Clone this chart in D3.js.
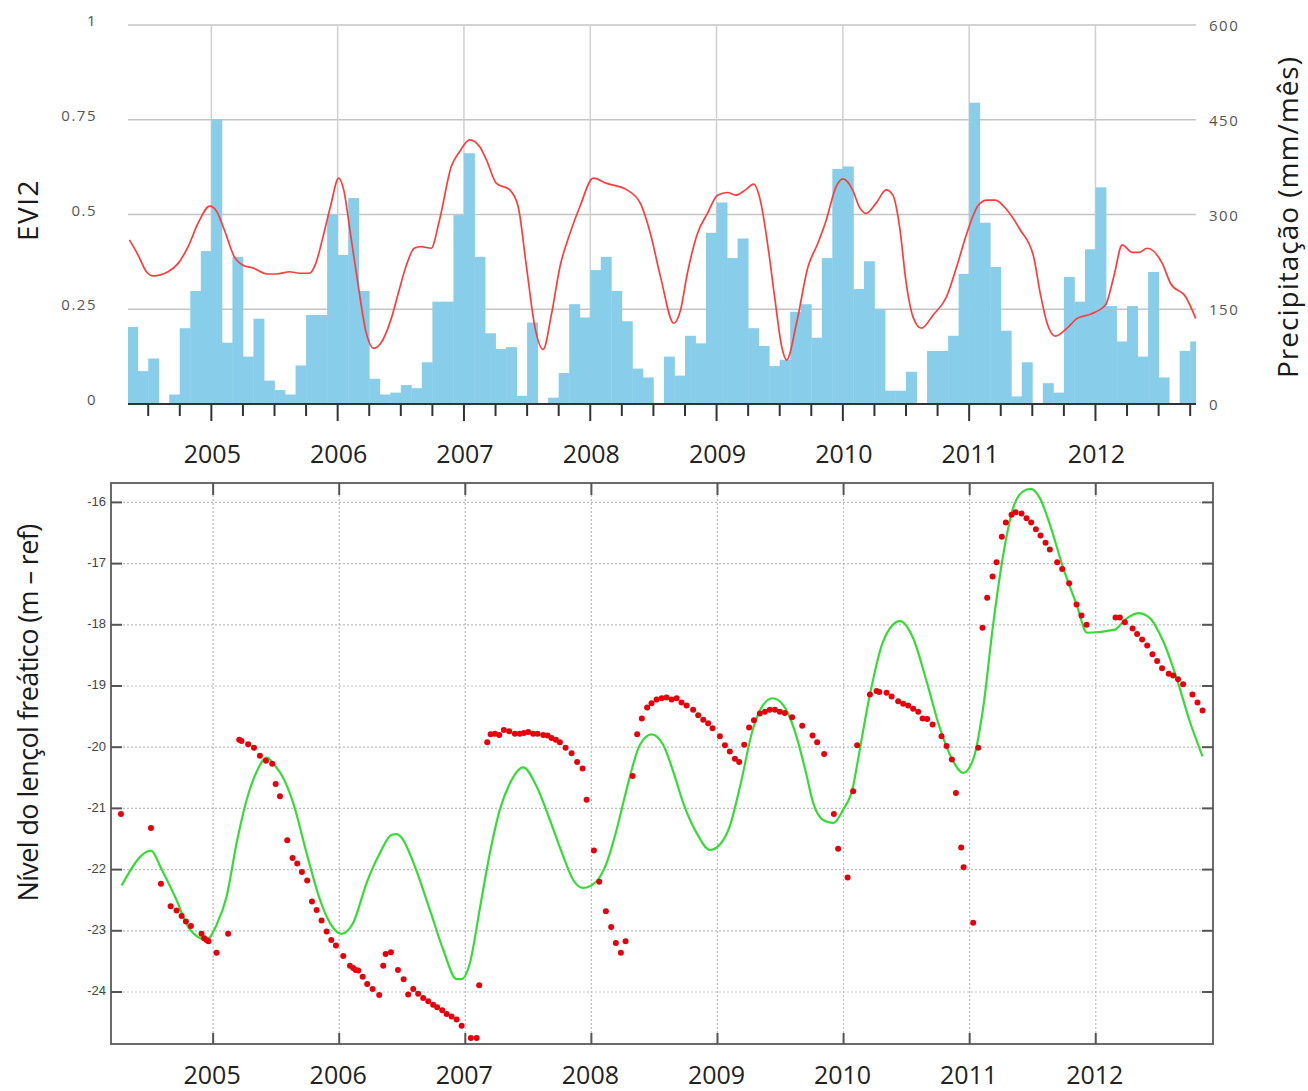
<!DOCTYPE html>
<html>
<head>
<meta charset="utf-8">
<script src="https://cdn.jsdelivr.net/npm/d3@7"></script>
<style>
body { margin: 0; background: #fff; }
text { font-family: "Open Sans", sans-serif; }
</style>
</head>
<body>
<div id="chart"></div>
<script>
// monthly rain (mm/mes), first bar is May 2004
var precipStart = [2004, 5];
var precip = [
    122, 52, 72, 0, 15, 120, 179, 242,
    451, 97, 233, 75, 135, 37, 22, 15, 61, 141, 141, 300,
    236, 326, 179, 40, 15, 18, 30, 25, 66, 162, 162, 299,
    397, 233, 112, 87, 90, 13, 129, 0, 10, 49, 158, 137,
    212, 233, 179, 131, 56, 42, 0, 75, 45, 108, 96, 271,
    319, 231, 262, 120, 92, 60, 70, 146, 158, 105, 231, 372,
    376, 182, 226, 150, 21, 21, 51, 0, 84, 84, 108, 206,
    477, 287, 217, 116, 12, 66, 0, 33, 18, 201, 162, 245,
    343, 155, 99, 155, 75, 209, 42, 0, 84, 99
];

var eviTime = [2004.351, 2004.420, 2004.486, 2004.539, 2004.657, 2004.737, 2004.816, 2004.895, 2004.987,
    2005.039, 2005.103, 2005.181, 2005.246, 2005.336, 2005.440, 2005.517, 2005.620, 2005.698, 2005.775,
    2005.827, 2005.878, 2005.943, 2006.008, 2006.048, 2006.101, 2006.168, 2006.221, 2006.287, 2006.341,
    2006.421, 2006.487, 2006.540, 2006.607, 2006.660, 2006.740, 2006.806, 2006.899, 2006.966, 2007.045,
    2007.125, 2007.178, 2007.257, 2007.363, 2007.429, 2007.495, 2007.561, 2007.627, 2007.694, 2007.760,
    2007.839, 2007.918, 2008.024, 2008.131, 2008.290, 2008.396, 2008.476, 2008.556, 2008.662, 2008.715,
    2008.769, 2008.849, 2008.928, 2009.008, 2009.086, 2009.151, 2009.229, 2009.294, 2009.346, 2009.411,
    2009.463, 2009.516, 2009.555, 2009.633, 2009.724, 2009.802, 2009.868, 2009.946, 2010.002, 2010.077,
    2010.130, 2010.183, 2010.263, 2010.343, 2010.396, 2010.449, 2010.502, 2010.555, 2010.622, 2010.715,
    2010.821, 2010.901, 2010.981, 2011.074, 2011.140, 2011.206, 2011.299, 2011.405, 2011.510, 2011.563,
    2011.617, 2011.683, 2011.775, 2011.855, 2011.960, 2012.079, 2012.145, 2012.212, 2012.291, 2012.344,
    2012.410, 2012.529, 2012.595, 2012.714, 2012.794];
var evi = [0.433, 0.393, 0.349, 0.338, 0.349, 0.371, 0.415, 0.477, 0.522,
    0.510, 0.459, 0.389, 0.367, 0.358, 0.343, 0.343, 0.349, 0.345, 0.345,
    0.371, 0.433, 0.521, 0.596, 0.565, 0.450, 0.301, 0.195, 0.147, 0.160,
    0.222, 0.301, 0.362, 0.411, 0.415, 0.411, 0.485, 0.626, 0.666, 0.697,
    0.679, 0.644, 0.582, 0.565, 0.521, 0.362, 0.204, 0.144, 0.239, 0.362,
    0.450, 0.521, 0.596, 0.582, 0.565, 0.530, 0.450, 0.336, 0.213, 0.248,
    0.345, 0.450, 0.503, 0.551, 0.558, 0.551, 0.565, 0.580, 0.538, 0.406,
    0.274, 0.151, 0.116, 0.213, 0.362, 0.424, 0.485, 0.573, 0.594, 0.565,
    0.520, 0.503, 0.530, 0.565, 0.551, 0.468, 0.318, 0.230, 0.200, 0.235,
    0.283, 0.362, 0.450, 0.525, 0.538, 0.538, 0.512, 0.459, 0.389, 0.292,
    0.213, 0.179, 0.200, 0.226, 0.237, 0.261, 0.336, 0.420, 0.400, 0.400,
    0.411, 0.371, 0.318, 0.283, 0.226];

// simulated water table (green line)
var modelTime = [2004.274, 2004.507, 2004.592, 2004.697, 2004.816, 2004.948, 2005.028, 2005.107, 2005.186,
    2005.266, 2005.345, 2005.424, 2005.490, 2005.550, 2005.635, 2005.741, 2005.847, 2005.926, 2006.019,
    2006.111, 2006.217, 2006.323, 2006.416, 2006.455, 2006.495, 2006.600, 2006.719, 2006.825, 2006.931,
    2006.971, 2007.036, 2007.116, 2007.195, 2007.274, 2007.354, 2007.459, 2007.565, 2007.671, 2007.776,
    2007.856, 2007.935, 2008.041, 2008.121, 2008.200, 2008.279, 2008.385, 2008.477, 2008.569, 2008.662,
    2008.728, 2008.834, 2008.940, 2009.019, 2009.098, 2009.178, 2009.283, 2009.362, 2009.437, 2009.521,
    2009.614, 2009.700, 2009.759, 2009.838, 2009.918, 2009.997, 2010.076, 2010.103, 2010.209, 2010.314,
    2010.447, 2010.552, 2010.658, 2010.764, 2010.869, 2010.949, 2011.028, 2011.107, 2011.186, 2011.266,
    2011.345, 2011.424, 2011.483, 2011.557, 2011.636, 2011.742, 2011.848, 2011.932, 2012.152, 2012.231,
    2012.337, 2012.429, 2012.535, 2012.641, 2012.746, 2012.847];
var modelLevel = [-22.26, -21.69, -22.00, -22.44, -22.98, -23.15, -22.90, -22.44, -21.57,
    -20.86, -20.40, -20.17, -20.30, -20.48, -20.91, -21.73, -22.49, -22.87, -23.05,
    -22.87, -22.22, -21.73, -21.43, -21.42, -21.48, -21.95, -22.66, -23.31, -23.79,
    -23.79, -23.53, -22.63, -21.73, -21.02, -20.59, -20.33, -20.64, -21.19, -21.78,
    -22.17, -22.30, -22.19, -21.89, -21.35, -20.69, -19.96, -19.79, -19.96, -20.48,
    -20.91, -21.40, -21.68, -21.59, -21.29, -20.65, -19.69, -19.31, -19.20, -19.31,
    -19.74, -20.40, -20.91, -21.19, -21.24, -21.02, -20.64, -20.34, -19.14, -18.27,
    -17.94, -18.22, -18.92, -19.69, -20.23, -20.42, -20.20, -19.36, -18.00, -16.86,
    -16.09, -15.82, -15.78, -15.93, -16.36, -17.07, -17.67, -18.13, -18.08, -17.92,
    -17.81, -17.89, -18.27, -18.87, -19.58, -20.15];

// observed water table (red dots)
var obsTime = [2004.269, 2004.507, 2004.586, 2004.663, 2004.710, 2004.750, 2004.784, 2004.824, 2004.908,
    2004.929, 2004.948, 2004.963, 2005.027, 2005.119, 2005.207, 2005.225, 2005.278, 2005.324, 2005.371,
    2005.419, 2005.469, 2005.496, 2005.530, 2005.588, 2005.630, 2005.667, 2005.704, 2005.746, 2005.784,
    2005.821, 2005.860, 2005.900, 2005.937, 2005.974, 2006.032, 2006.085, 2006.111, 2006.130, 2006.151,
    2006.186, 2006.222, 2006.265, 2006.317, 2006.349, 2006.368, 2006.410, 2006.466, 2006.511, 2006.547,
    2006.587, 2006.626, 2006.666, 2006.706, 2006.745, 2006.777, 2006.817, 2006.852, 2006.891, 2006.931,
    2006.971, 2007.044, 2007.090, 2007.110, 2007.174, 2007.201, 2007.235, 2007.269, 2007.306, 2007.348,
    2007.393, 2007.433, 2007.465, 2007.499, 2007.538, 2007.573, 2007.618, 2007.653, 2007.684, 2007.718,
    2007.750, 2007.795, 2007.843, 2007.887, 2007.930, 2007.962, 2008.020, 2008.062, 2008.115, 2008.157,
    2008.194, 2008.234, 2008.271, 2008.327, 2008.363, 2008.400, 2008.442, 2008.477, 2008.517, 2008.557,
    2008.596, 2008.636, 2008.676, 2008.715, 2008.755, 2008.807, 2008.847, 2008.887, 2008.926, 2008.961,
    2009.019, 2009.059, 2009.098, 2009.138, 2009.172, 2009.212, 2009.251, 2009.289, 2009.336, 2009.376,
    2009.415, 2009.455, 2009.495, 2009.534, 2009.592, 2009.672, 2009.754, 2009.791, 2009.846, 2009.923,
    2009.957, 2010.032, 2010.076, 2010.108, 2010.209, 2010.262, 2010.283, 2010.341, 2010.381, 2010.433,
    2010.473, 2010.512, 2010.552, 2010.592, 2010.627, 2010.663, 2010.706, 2010.777, 2010.817, 2010.859,
    2010.891, 2010.933, 2010.952, 2011.028, 2011.068, 2011.102, 2011.139, 2011.182, 2011.213, 2011.255,
    2011.287, 2011.332, 2011.364, 2011.411, 2011.451, 2011.488, 2011.525, 2011.562, 2011.602, 2011.636,
    2011.694, 2011.734, 2011.789, 2011.848, 2011.887, 2011.927, 2012.157, 2012.191, 2012.231, 2012.292,
    2012.328, 2012.368, 2012.408, 2012.450, 2012.487, 2012.526, 2012.579, 2012.614, 2012.653, 2012.693,
    2012.767, 2012.807, 2012.847];
var obsLevel = [-21.09, -21.32, -22.23, -22.60, -22.67, -22.76, -22.85, -22.92, -23.05,
    -23.12, -23.15, -23.17, -23.36, -23.05, -19.88, -19.90, -19.95, -20.01, -20.14,
    -20.22, -20.27, -20.60, -20.80, -21.52, -21.81, -21.90, -22.04, -22.18, -22.52,
    -22.66, -22.83, -23.01, -23.15, -23.24, -23.41, -23.57, -23.61, -23.64, -23.65,
    -23.75, -23.87, -23.95, -24.05, -23.57, -23.38, -23.35, -23.64, -23.79, -24.04,
    -23.95, -24.03, -24.10, -24.15, -24.21, -24.25, -24.30, -24.36, -24.40, -24.45,
    -24.55, -24.75, -24.75, -23.89, -19.92, -19.79, -19.78, -19.80, -19.72, -19.74,
    -19.78, -19.78, -19.77, -19.75, -19.78, -19.78, -19.80, -19.81, -19.85, -19.88,
    -19.92, -20.01, -20.10, -20.24, -20.35, -20.86, -21.69, -22.20, -22.68, -22.94,
    -23.20, -23.36, -23.17, -20.47, -19.79, -19.53, -19.35, -19.28, -19.22, -19.20,
    -19.19, -19.22, -19.20, -19.27, -19.32, -19.39, -19.48, -19.55, -19.61, -19.69,
    -19.82, -19.97, -20.07, -20.19, -20.24, -19.96, -19.68, -19.56, -19.45, -19.42,
    -19.39, -19.39, -19.42, -19.44, -19.51, -19.65, -19.81, -19.92, -20.11, -21.09,
    -21.66, -22.13, -20.72, -19.97, -19.14, -19.08, -19.10, -19.11, -19.17, -19.25,
    -19.29, -19.32, -19.37, -19.42, -19.53, -19.54, -19.63, -19.82, -19.98, -20.20,
    -20.75, -21.64, -21.96, -22.87, -20.01, -18.05, -17.56, -17.21, -16.98, -16.56,
    -16.33, -16.20, -16.16, -16.18, -16.26, -16.33, -16.44, -16.54, -16.66, -16.77,
    -16.98, -17.09, -17.32, -17.67, -17.85, -18.00, -17.88, -17.88, -17.96, -18.06,
    -18.15, -18.24, -18.34, -18.48, -18.59, -18.71, -18.80, -18.83, -18.89, -18.97,
    -19.14, -19.27, -19.40];

var years = [2005, 2006, 2007, 2008, 2009, 2010, 2011, 2012];
var eviTicks = [0, 0.25, 0.5, 0.75, 1];
var precipTicks = [0, 150, 300, 450, 600];
var levelTicks = [-24, -23, -22, -21, -20, -19, -18, -17, -16];

var svg = d3.select("#chart").append("svg")
    .attr("width", 1308)
    .attr("height", 1091)
    .style("background", "#fff");

// ---------- top panel ----------
var xTop = d3.scaleLinear().domain([2004.34, 2012.796]).range([128, 1196]);
var yEvi = d3.scaleLinear().domain([0, 1]).range([404, 25]);
var yPrec = d3.scaleLinear().domain([0, 600]).range([404, 25]);

svg.append("clipPath").attr("id", "topclip")
    .append("rect").attr("x", 128).attr("y", 0).attr("width", 1068).attr("height", 410);

var topPanel = svg.append("g");

topPanel.selectAll(".hgrid").data(eviTicks.slice(1)).enter().append("line")
    .attr("x1", 128).attr("x2", 1196)
    .attr("y1", function (d) { return yEvi(d); })
    .attr("y2", function (d) { return yEvi(d); })
    .style("stroke", "#c4c4c4").style("stroke-width", 1.5);

topPanel.selectAll(".vgrid").data(years).enter().append("line")
    .attr("x1", function (d) { return xTop(d); })
    .attr("x2", function (d) { return xTop(d); })
    .attr("y1", yEvi(1)).attr("y2", yEvi(0))
    .style("stroke", "#d0d0d0").style("stroke-width", 1.5);

var bars = precip.map(function (v, i) {
    var m = precipStart[1] - 1 + i;
    var t0 = precipStart[0] + m / 12;
    return { t0: t0, t1: t0 + 1 / 12, v: v };
});

topPanel.append("g").attr("clip-path", "url(#topclip)")
    .selectAll("rect").data(bars).enter().append("rect")
    .attr("x", function (d) { return xTop(d.t0); })
    .attr("y", function (d) { return yPrec(d.v); })
    .attr("width", function (d) { return xTop(d.t1) - xTop(d.t0) + 0.4; })
    .attr("height", function (d) { return yPrec(0) - yPrec(d.v); })
    .style("fill", "#88cdea");

var eviLine = d3.line()
    .x(function (d, i) { return xTop(eviTime[i]); })
    .y(function (d) { return yEvi(d); })
    .curve(d3.curveMonotoneX);

topPanel.append("path")
    .attr("d", eviLine(evi))
    .style("fill", "none")
    .style("stroke", "#ff3c3c")
    .style("stroke-width", 1.7);

// bottom axis of top panel
topPanel.append("line")
    .attr("x1", 128).attr("x2", 1196)
    .attr("y1", 404).attr("y2", 404)
    .style("stroke", "#333").style("stroke-width", 2);

var quarters = d3.range(2004.5 * 4, 2012.75 * 4 + 1)
    .map(function (q) { return q / 4; })
    .filter(function (q) { return q % 1 != 0; });

topPanel.selectAll(".minor").data(quarters).enter().append("line")
    .attr("x1", function (d) { return xTop(d); })
    .attr("x2", function (d) { return xTop(d); })
    .attr("y1", 404).attr("y2", 416)
    .style("stroke", "#333").style("stroke-width", 2);

topPanel.selectAll(".major").data(years).enter().append("line")
    .attr("x1", function (d) { return xTop(d); })
    .attr("x2", function (d) { return xTop(d); })
    .attr("y1", 404).attr("y2", 421)
    .style("stroke", "#333").style("stroke-width", 2);

topPanel.selectAll(".ylab").data(eviTicks).enter().append("text")
    .attr("x", 97)
    .attr("y", function (d) { return yEvi(d) - 3; })
    .attr("text-anchor", "end")
    .attr("dominant-baseline", "middle")
    .style("font-size", "15px")
    .style("letter-spacing", "1.5px")
    .style("fill", "#555")
    .text(function (d) { return String(d); });

topPanel.selectAll(".rlab").data(precipTicks).enter().append("text")
    .attr("x", 1209)
    .attr("y", function (d) { return yPrec(d) + 2; })
    .attr("dominant-baseline", "middle")
    .style("font-size", "15px")
    .style("letter-spacing", "1.5px")
    .style("fill", "#555")
    .text(function (d) { return String(d); });

topPanel.selectAll(".xlab").data(years).enter().append("text")
    .attr("x", function (d) { return xTop(d) + 1; })
    .attr("y", 463)
    .attr("text-anchor", "middle")
    .style("font-size", "25px")
    .style("fill", "#222")
    .text(function (d) { return d; });

topPanel.append("text")
    .attr("transform", "translate(38,210) rotate(-90)")
    .attr("text-anchor", "middle")
    .style("font-size", "28px")
    .style("letter-spacing", "1.5px")
    .style("fill", "#1a1a1a")
    .text("EVI2");

topPanel.append("text")
    .attr("transform", "translate(1298,217) rotate(-90)")
    .attr("text-anchor", "middle")
    .style("font-size", "28px")
    .style("letter-spacing", "1px")
    .style("fill", "#1a1a1a")
    .text("Precipitação (mm/mês)");

// ---------- bottom panel ----------
var xBot = d3.scaleLinear().domain([2004.19, 2012.93]).range([111, 1213]);
var yLevel = d3.scaleLinear().domain([-24.85, -15.683]).range([1044, 483]);

var bot = svg.append("g");

bot.selectAll(".hgrid").data(levelTicks).enter().append("line")
    .attr("x1", 111).attr("x2", 1213)
    .attr("y1", function (d) { return yLevel(d); })
    .attr("y2", function (d) { return yLevel(d); })
    .style("stroke", "#bdbdbd").style("stroke-width", 1.2)
    .style("stroke-dasharray", "2,2");

bot.selectAll(".vgrid").data(years).enter().append("line")
    .attr("x1", function (d) { return xBot(d); })
    .attr("x2", function (d) { return xBot(d); })
    .attr("y1", 483).attr("y2", 1044)
    .style("stroke", "#bdbdbd").style("stroke-width", 1.2)
    .style("stroke-dasharray", "2,2");

bot.append("rect")
    .attr("x", 111).attr("y", 483)
    .attr("width", 1102).attr("height", 561)
    .style("fill", "none")
    .style("stroke", "#6a6a6a").style("stroke-width", 2);

levelTicks.forEach(function (v) {
    bot.append("line").attr("x1", 111).attr("x2", 122)
        .attr("y1", yLevel(v)).attr("y2", yLevel(v))
        .style("stroke", "#555").style("stroke-width", 2);
    bot.append("line").attr("x1", 1202).attr("x2", 1213)
        .attr("y1", yLevel(v)).attr("y2", yLevel(v))
        .style("stroke", "#555").style("stroke-width", 2);
});

years.forEach(function (yr) {
    bot.append("line").attr("x1", xBot(yr)).attr("x2", xBot(yr))
        .attr("y1", 483).attr("y2", 495)
        .style("stroke", "#555").style("stroke-width", 2);
    bot.append("line").attr("x1", xBot(yr)).attr("x2", xBot(yr))
        .attr("y1", 1044).attr("y2", 1033)
        .style("stroke", "#555").style("stroke-width", 2);
});

var modelLine = d3.line()
    .x(function (d, i) { return xBot(modelTime[i]); })
    .y(function (d) { return yLevel(d); })
    .curve(d3.curveMonotoneX);

bot.append("path")
    .attr("d", modelLine(modelLevel))
    .style("fill", "none")
    .style("stroke", "#35dc35")
    .style("stroke-width", 2.2);

bot.selectAll(".obs").data(obsLevel).enter().append("circle")
    .attr("cx", function (d, i) { return xBot(obsTime[i]); })
    .attr("cy", function (d) { return yLevel(d); })
    .attr("r", 3)
    .style("fill", "#e8000b");

bot.selectAll(".ylab").data(levelTicks).enter().append("text")
    .attr("x", 106)
    .attr("y", function (d) { return yLevel(d); })
    .attr("text-anchor", "end")
    .attr("dominant-baseline", "middle")
    .style("font-family", "'Liberation Sans', Arial, sans-serif")
    .style("font-size", "13px")
    .style("fill", "#444")
    .text(function (d) { return String(d); });

bot.selectAll(".xlab").data(years).enter().append("text")
    .attr("x", function (d) { return xBot(d) - 1; })
    .attr("y", 1084)
    .attr("text-anchor", "middle")
    .style("font-size", "25px")
    .style("fill", "#222")
    .text(function (d) { return d; });

bot.append("text")
    .attr("transform", "translate(38,713) rotate(-90)")
    .attr("text-anchor", "middle")
    .style("font-size", "27px")
    .style("letter-spacing", "-0.6px")
    .style("fill", "#1a1a1a")
    .text("Nível do lençol freático (m – ref)");
</script>
</body>
</html>
